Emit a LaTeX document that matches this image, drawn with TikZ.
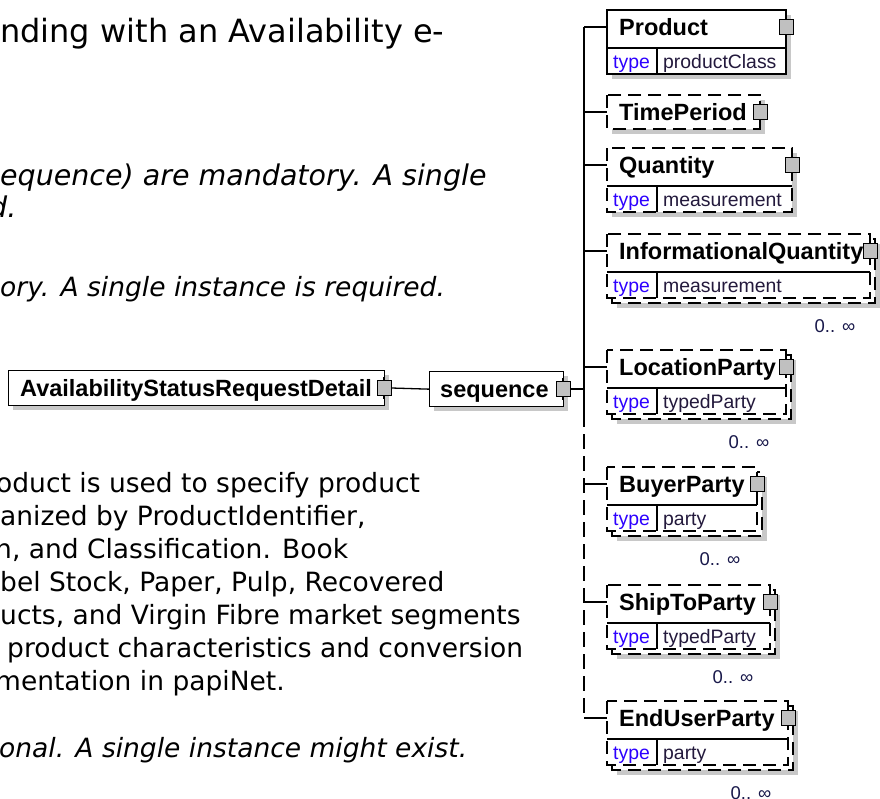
\documentclass[tikz,border=0pt]{standalone}
\usepackage{fontspec}
\setmainfont{DejaVu Sans}
\newfontfamily\dgf{Liberation Sans}
\definecolor{shadowgray}{RGB}{200,200,200}
\definecolor{typeblue}{RGB}{45,0,255}
\definecolor{valtext}{RGB}{35,25,60}
\definecolor{occtext}{RGB}{25,25,75}
\definecolor{sqgray}{RGB}{192,192,192}
\tikzset{
  boxline/.style={line width=1.3pt, draw=black},
  solidb/.style={},
  dashb/.style={dash pattern=on 13pt off 7pt},
  bodyt/.style={anchor=base west, inner sep=0pt, font=\fontsize{26.5}{30}\selectfont},
  bigt/.style={anchor=base west, inner sep=0pt, font=\fontsize{32}{36}\selectfont},
  itt/.style={anchor=base west, inner sep=0pt, font=\fontsize{26.5}{30}\selectfont\itshape},
  itbig/.style={anchor=base west, inner sep=0pt, font=\fontsize{28.5}{32}\selectfont\itshape},
  hdr/.style={anchor=base west, inner sep=0pt, font=\dgf\bfseries\fontsize{23.5}{26}\selectfont},
  typelbl/.style={anchor=base west, inner sep=0pt, text=typeblue, font=\dgf\fontsize{19.4}{22}\selectfont},
  typeval/.style={anchor=base west, inner sep=0pt, text=valtext, font=\dgf\fontsize{19.4}{22}\selectfont},
  occ/.style={anchor=center, inner sep=0pt, text=occtext, font=\dgf\fontsize{18.5}{21}\selectfont},
  sqbox/.style={draw=black, line width=1pt, fill=sqgray, minimum width=14pt, minimum height=15pt, inner sep=0pt},
  plainbox/.style={boxline, fill=white, anchor=north west, inner sep=0pt},
}
% #1 id, #2 label, #3 stub y, #4 right x, #5 type value, #6 border style, #7 stacked (1/0), #8 has type row (1/0)
\newcommand\schemael[8]{%
  \pgfmathsetmacro\elT{#3-17}%
  \ifnum#8=1 \pgfmathsetmacro\elB{#3+47}\else\pgfmathsetmacro\elB{#3+17}\fi
  \pgfmathsetmacro\elD{#3+21}%
  \ifnum#7=1
    \fill[shadowgray] (617,\elT+10) rectangle (#4+10,\elB+10);
    \draw[boxline,#6,fill=white] (612,\elT+5) rectangle (#4+5,\elB+5);
  \else
    \fill[shadowgray] (612,\elT+5) rectangle (#4+5,\elB+5);
  \fi
  \draw[boxline,#6,fill=white] (607,\elT) rectangle (#4,\elB);
  \coordinate (#1v) at (584,#3);
  \coordinate (#1w) at (607,#3);
  \draw[boxline] (#1v) -- (#1w);
  \node[hdr] (#1) at (619,#3+8.5) {#2};
  \ifnum#8=1
    \draw[line width=1.1pt] (607,\elD) -- (#4,\elD);
    \draw[line width=1.1pt] (657,\elD) -- (657,\elB);
    \node[typelbl] (#1t) at (613,#3+41) {type};
    \node[typeval] (#1val) at (663,#3+41) {#5};
  \fi
  \draw[boxline] (#4,#3-11) -- (#4,#3+11);
  \node[sqbox] (#1sq) at (#4,#3) {};
}
\begin{document}
\begin{tikzpicture}[x=1pt,y=-1pt]
\useasboundingbox (0,0) rectangle (880,798);
\clip (0,0) rectangle (880,798);
\fill[white] (0,0) rectangle (880,798);

% left text
\node[bigt] (t1) at (0,42) {nding with an Availability e-};
\node[itbig] (t2) at (0,185) {equence) are mandatory. A single};
\node[itbig] (t3) at (-11,217) {d.};
\node[itt] (t4) at (0,296) {ory. A single instance is required.};
\node[bodyt] (t5) at (-4,492) {oduct is used to specify product};
\node[bodyt] (t6) at (0,525) {anized by ProductIdentifier,};
\node[bodyt] (t7) at (-5,558) {n, and Classification. Book};
\node[bodyt] (t8) at (0,591) {bel Stock, Paper, Pulp, Recovered};
\node[bodyt] (t9) at (0,624) {ucts, and Virgin Fibre market segments};
\node[bodyt] (t10) at (7,657) {product characteristics and conversion};
\node[bodyt] (t11) at (-5,690) {mentation in papiNet.};
\node[itt] (t12) at (-1,757) {onal. A single instance might exist.};

% main element
\fill[shadowgray] (13,375) rectangle (389,410);
\node[plainbox, minimum width=376pt, minimum height=35pt] (avail) at (8,370) {};
\node[hdr] (availtxt) at (20,396) {AvailabilityStatusRequestDetail};
\draw[boxline] (384,377) -- (384,399);
\node[sqbox] (availsq) at (384,388) {};

% sequence
\fill[shadowgray] (434,376) rectangle (568,411);
\node[plainbox, minimum width=134pt, minimum height=35pt] (seq) at (429,371) {};
\node[hdr] (seqtxt) at (440,397) {sequence};
\draw[boxline] (563,378) -- (563,400);
\node[sqbox] (seqsq) at (563,389) {};

\draw[boxline] (availsq.east) -- (seq.west);
\coordinate (seqv) at (584,389);
\draw[boxline] (seqsq.east) -- (seqv);

% vertical bar
\coordinate (vtop) at (584,27);
\coordinate (vmid) at (584,412);
\coordinate (vbot) at (584,718);
\draw[boxline] (vtop) -- (vmid);
\draw[boxline, dash pattern=on 15pt off 7pt] (vmid) -- (vbot);

% children
\schemael{prod}{Product}{27}{786}{productClass}{solidb}{0}{1}
\schemael{timep}{TimePeriod}{112}{760}{}{dashb}{0}{0}
\schemael{qty}{Quantity}{165}{792}{measurement}{dashb}{0}{1}
\schemael{infoq}{InformationalQuantity}{251}{870}{measurement}{dashb}{1}{1}
\schemael{locp}{LocationParty}{367}{786}{typedParty}{dashb}{1}{1}
\schemael{buyp}{BuyerParty}{484}{757}{party}{dashb}{1}{1}
\schemael{shipp}{ShipToParty}{602}{770}{typedParty}{dashb}{1}{1}
\schemael{endp}{EndUserParty}{718}{788}{party}{dashb}{1}{1}

\node[occ] (infoqocc) at (835,326) {0.. ∞};
\node[occ] (locpocc) at (749,442) {0.. ∞};
\node[occ] (buypocc) at (720,559) {0.. ∞};
\node[occ] (shippocc) at (733,677) {0.. ∞};
\node[occ] (endpocc) at (751,793) {0.. ∞};
\end{tikzpicture}
\end{document}
